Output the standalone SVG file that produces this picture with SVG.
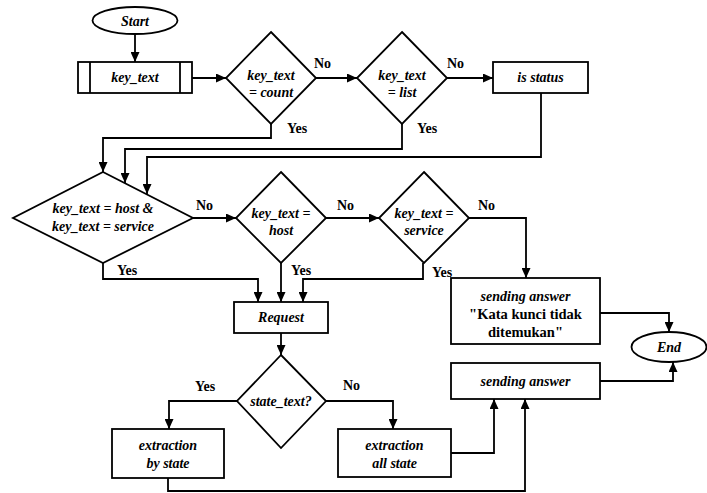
<svg xmlns="http://www.w3.org/2000/svg" width="707" height="493" viewBox="0 0 707 493">
<defs>
<marker id="ah" markerUnits="userSpaceOnUse" markerWidth="10" markerHeight="9" refX="10" refY="4.5" orient="auto">
<path d="M0,0 L10,4.5 L0,9 z" fill="#000"/>
</marker>
<style>
.s{fill:#fff;stroke:#000;stroke-width:1.8}
.t{font-family:'Liberation Serif','Times New Roman','DejaVu Serif',serif;font-weight:bold;font-style:italic;font-size:14px;text-anchor:middle;fill:#000}
.b{font-family:'Liberation Serif','Times New Roman','DejaVu Serif',serif;font-weight:bold;font-size:14.5px;text-anchor:middle;fill:#000}
.l{font-family:'Liberation Serif','Times New Roman','DejaVu Serif',serif;font-weight:bold;font-size:14px;fill:#000}
.c{fill:none;stroke:#000;stroke-width:1.8;marker-end:url(#ah)}
</style>
</defs>
<rect width="707" height="493" fill="#fff"/>
<g id="connectors">
<path class="c" d="M135,34 V62"/>
<path class="c" d="M192,78 H226"/>
<path class="c" d="M316,78 H357"/>
<path class="c" d="M447,78 H493"/>
<path class="c" d="M271,124 V138 H103 V172"/>
<path class="c" d="M402,124 V149 H125 V183"/>
<path class="c" d="M541,93 V157 H147 V194"/>
<path class="c" d="M193,218 H236"/>
<path class="c" d="M326,218 H379"/>
<path class="c" d="M469,218 H526 V278"/>
<path class="c" d="M103,263 V279 H258 V302"/>
<path class="c" d="M281,263 V302"/>
<path class="c" d="M423,263 V279 H303 V302"/>
<path class="c" d="M600,313 H669 V332"/>
<path class="c" d="M281,333 V355"/>
<path class="c" d="M237,401 H169 V429"/>
<path class="c" d="M326,401 H393 V429"/>
<path class="c" d="M451,453 H494 V399"/>
<path class="c" d="M168,478 V491 H525 V399"/>
<path class="c" d="M600,381 H673 V362"/>
<text class="l" x="314" y="68">No</text>
<text class="l" x="447" y="68">No</text>
<text class="l" x="287" y="133">Yes</text>
<text class="l" x="417" y="133">Yes</text>
<text class="l" x="196" y="210">No</text>
<text class="l" x="337" y="210">No</text>
<text class="l" x="478" y="210">No</text>
<text class="l" x="117" y="275">Yes</text>
<text class="l" x="291" y="275">Yes</text>
<text class="l" x="432" y="277">Yes</text>
<text class="l" x="195" y="391">Yes</text>
<text class="l" x="343" y="390">No</text>
</g>
<g id="start">
<ellipse class="s" cx="135" cy="20.5" rx="42.5" ry="13.5"/>
<text class="t" x="135" y="25.5">Start</text>
</g>
<g id="key_text">
<rect class="s" x="78" y="62" width="114" height="31"/>
<line class="s" x1="90" y1="62" x2="90" y2="93"/>
<line class="s" x1="180" y1="62" x2="180" y2="93"/>
<text class="t" x="135" y="82">key_text</text>
</g>
<g id="d_count">
<polygon class="s" points="271,32 316,78 271,124 226,78"/>
<text class="t" x="271" y="80">key_text</text>
<text class="t" x="271" y="97">= count</text>
</g>
<g id="d_list">
<polygon class="s" points="402,32 447,78 402,124 357,78"/>
<text class="t" x="402" y="80">key_text</text>
<text class="t" x="402" y="97">= list</text>
</g>
<g id="is_status">
<rect class="s" x="493" y="62" width="95" height="31"/>
<text class="t" x="540.5" y="82">is status</text>
</g>
<g id="d_hostservice">
<polygon class="s" points="103,172 193,218 103,263 13,218"/>
<text class="t" x="103" y="213">key_text = host &amp;</text>
<text class="t" x="103" y="231">key_text = service</text>
</g>
<g id="d_host">
<polygon class="s" points="281,172 326,218 281,263 236,218"/>
<text class="t" x="281" y="218">key_text =</text>
<text class="t" x="281" y="235">host</text>
</g>
<g id="d_service">
<polygon class="s" points="424,172 469,218 424,263 379,218"/>
<text class="t" x="424" y="218">key_text =</text>
<text class="t" x="424" y="235">service</text>
</g>
<g id="send_notfound">
<rect class="s" x="451" y="278" width="149" height="66"/>
<text class="t" x="525.5" y="301">sending answer</text>
<text class="b" x="525.5" y="319">"Kata kunci tidak</text>
<text class="b" x="525.5" y="337">ditemukan"</text>
</g>
<g id="end">
<ellipse class="s" cx="669" cy="347" rx="37.5" ry="15"/>
<text class="t" x="669" y="352">End</text>
</g>
<g id="request">
<rect class="s" x="234" y="302" width="94" height="31"/>
<text class="t" x="281" y="322">Request</text>
</g>
<g id="d_state">
<polygon class="s" points="281,355 326,401 281,448 237,401"/>
<text class="t" x="281" y="406">state_text?</text>
</g>
<g id="send_answer">
<rect class="s" x="451" y="363" width="149" height="36"/>
<text class="t" x="525.5" y="386">sending answer</text>
</g>
<g id="extract_by_state">
<rect class="s" x="112" y="429" width="112" height="49"/>
<text class="t" x="168" y="450">extraction</text>
<text class="t" x="168" y="468">by state</text>
</g>
<g id="extract_all_state">
<rect class="s" x="338" y="429" width="113" height="48"/>
<text class="t" x="394.5" y="450">extraction</text>
<text class="t" x="394.5" y="468">all state</text>
</g>
</svg>
